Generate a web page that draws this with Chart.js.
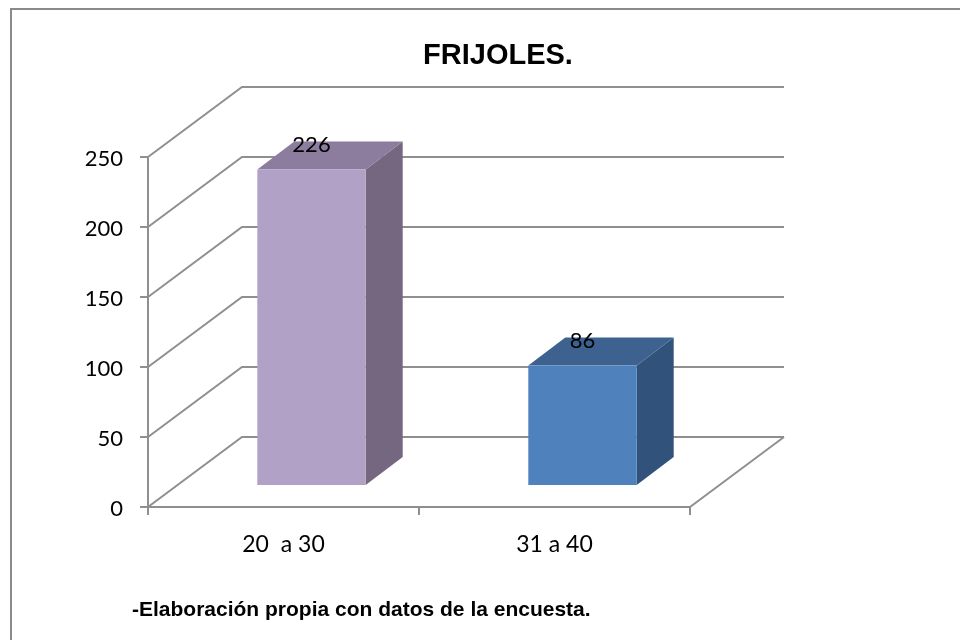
<!DOCTYPE html>
<html>
<head>
<meta charset="utf-8">
<script src="https://cdn.jsdelivr.net/npm/chart.js@4.4.1/dist/chart.umd.min.js"></script>
<style>
  html, body { margin: 0; padding: 0; background: #ffffff; }
  #wrap { position: relative; width: 960px; height: 640px; overflow: hidden; }
  #frame { position: absolute; left: 10px; top: 8px; width: 2000px; height: 2000px;
           border-left: 2px solid #8a8a8a; border-top: 2px solid #8a8a8a; }
  canvas { position: absolute; left: 0; top: 0; }
</style>
</head>
<body>
<div id="wrap">
  <div id="frame"></div>
  <canvas id="c" width="960" height="640"></canvas>
</div>
<script>
// ---- data ----
const categories = ['20  a 30', '31 a 40'];
const values = [226, 86];
const yTicks = [0, 50, 100, 150, 200, 250];
const titleText = 'FRIJOLES.';
const footerText = '-Elaboración propia con datos de la encuesta.';

// ---- styles ----
const frontColors = ['#B2A1C7', '#4F81BD'];
const topColors = ['#8C7C9D', '#3D6290'];
const sideColors = ['#766781', '#31527B'];
const gridColor = '#8f8f8f';
const labelFont = 'Lato, "Open Sans", sans-serif';

const threeD = {
  id: 'threeD',
  beforeDatasetsDraw(chart) {
    const { ctx, chartArea, scales } = chart;
    const y = scales.y;
    const DX = 94, DY = -70;
    ctx.save();
    ctx.strokeStyle = gridColor;
    ctx.lineWidth = 2;
    yTicks.forEach(v => {
      const py = y.getPixelForValue(v);
      ctx.beginPath();
      ctx.moveTo(chartArea.left, py);
      ctx.lineTo(chartArea.left + DX, py + DY);
      ctx.lineTo(chartArea.right + DX, py + DY);
      ctx.stroke();
    });
    const p0 = y.getPixelForValue(0);
    ctx.beginPath();
    ctx.moveTo(chartArea.right, p0);
    ctx.lineTo(chartArea.right + DX, p0 + DY);
    ctx.stroke();
    ctx.restore();
  },
  afterDatasetsDraw(chart) {
    const { ctx } = chart;
    const meta = chart.getDatasetMeta(0);
    const data = chart.data.datasets[0].data;
    const ox = 28, oy = -21, bx = 37, by = -28;
    ctx.save();
    meta.data.forEach((bar, i) => {
      const p = bar.getProps(['x', 'y', 'base', 'width'], true);
      const l = p.x - p.width / 2 + ox, r = p.x + p.width / 2 + ox;
      const t = p.y + oy, b = p.base + oy;
      // side
      ctx.fillStyle = sideColors[i];
      ctx.beginPath();
      ctx.moveTo(r, t); ctx.lineTo(r + bx, t + by); ctx.lineTo(r + bx, b + by); ctx.lineTo(r, b);
      ctx.closePath(); ctx.fill();
      // top
      ctx.fillStyle = topColors[i];
      ctx.beginPath();
      ctx.moveTo(l, t); ctx.lineTo(l + bx, t + by); ctx.lineTo(r + bx, t + by); ctx.lineTo(r, t);
      ctx.closePath(); ctx.fill();
      // front
      ctx.fillStyle = frontColors[i];
      ctx.fillRect(l, t, r - l, b - t);
      // value label
      ctx.fillStyle = '#000';
      ctx.font = 'normal normal 400 22px ' + labelFont;
      ctx.textAlign = 'center';
      ctx.textBaseline = 'middle';
      ctx.fillText(String(data[i]), (l + r) / 2, t + by + 3);
    });
    ctx.restore();
  },
  afterDraw(chart) {
    const { ctx } = chart;
    ctx.save();
    ctx.fillStyle = '#000';
    ctx.font = 'bold 29px "Liberation Sans", Arial, sans-serif';
    ctx.textAlign = 'center';
    ctx.textBaseline = 'alphabetic';
    ctx.fillText(titleText, 498, 64);
    ctx.font = 'bold 21px "Liberation Sans", Arial, sans-serif';
    ctx.textAlign = 'left';
    ctx.fillText(footerText, 132, 616);
    ctx.restore();
  }
};

new Chart(document.getElementById('c'), {
  type: 'bar',
  data: {
    labels: categories,
    datasets: [{
      data: values,
      backgroundColor: 'rgba(0,0,0,0)',
      borderWidth: 0,
      barPercentage: 0.4,
      categoryPercentage: 1.0
    }]
  },
  options: {
    responsive: false,
    animation: false,
    devicePixelRatio: 1,
    layout: { padding: { left: 0, top: 157, right: 270, bottom: 73 } },
    plugins: {
      legend: { display: false },
      tooltip: { enabled: false },
      title: { display: false }
    },
    scales: {
      x: {
        type: 'category',
        offset: true,
        grid: { offset: true, drawOnChartArea: false, drawTicks: true, tickLength: 8, color: gridColor, lineWidth: 2 },
        border: { display: true, color: gridColor, width: 2 },
        ticks: { font: { family: labelFont, size: 23, style: 'normal', weight: 'normal' }, color: '#000', padding: 16, maxRotation: 0, autoSkip: false },
        afterFit: s => { s.height = 60; }
      },
      y: {
        min: 0,
        max: 250,
        afterBuildTicks: s => { s.ticks = yTicks.map(v => ({ value: v })); },
        grid: { drawOnChartArea: false, drawTicks: true, tickLength: 8, color: gridColor, lineWidth: 2 },
        border: { display: true, color: gridColor, width: 2 },
        ticks: { font: { family: labelFont, size: 22, style: 'normal', weight: 'normal' }, color: '#000', padding: 17, labelOffset: 2 },
        afterFit: s => { s.width = 148; }
      }
    }
  },
  plugins: [threeD]
});
</script>
</body>
</html>
